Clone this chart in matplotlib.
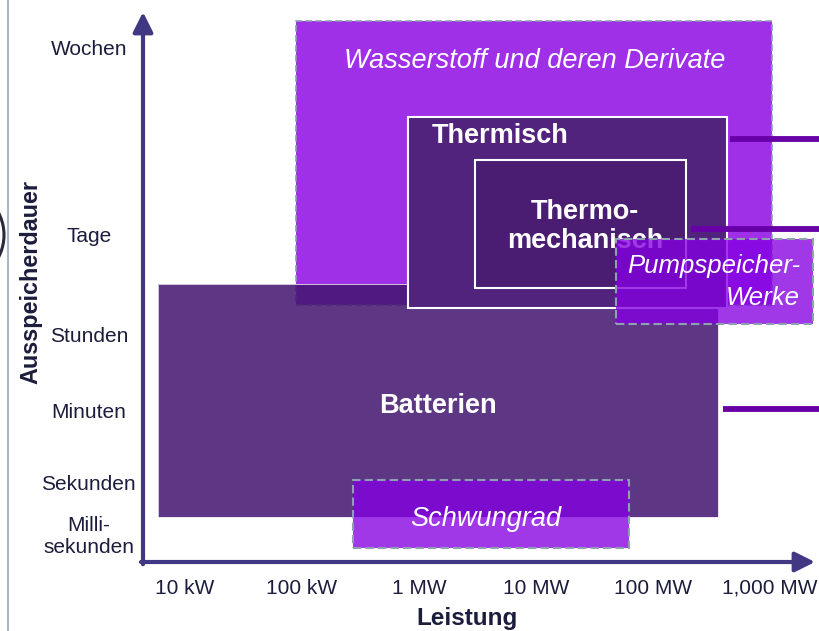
import matplotlib.pyplot as plt
from matplotlib.patches import Rectangle, Ellipse

plt.rcParams['font.family'] = ['Liberation Sans', 'DejaVu Sans']

# Speichertechnologien: Leistungsbereich (kW) und Ausspeicherdauer (ordinale Skala 0..10)
techs = ["Wasserstoff", "Batterien", "Thermisch", "Thermomechanisch", "Pumpspeicher", "Schwungrad"]
labels = ["Wasserstoff und deren Derivate", "Batterien", "Thermisch",
          "Thermo-\nmechanisch", "Pumpspeicher-\nWerke", "Schwungrad"]
power_min_kw = [89, 5.9, 810, 3000, 48000, 275]
power_max_kw = [1050000, 360000, 430000, 190000, 2350000, 63000]
dur_min = [4.67, 0.82, 4.62, 4.98, 4.33, 0.26]
dur_max = [9.84, 5.05, 8.09, 7.31, 5.87, 1.49]

# Achsenbeschriftungen
power_ticks_kw = [10, 100, 1000, 10000, 100000, 1000000]
power_labels = ["10 kW", "100 kW", "1 MW", "10 MW", "100 MW", "1,000 MW"]
dur_ticks = [0.53, 1.44, 2.76, 4.13, 5.95, 9.36]
dur_labels = ["Milli-\nsekunden", "Sekunden", "Minuten", "Stunden", "Tage", "Wochen"]

# Verbindungslinien rechts (Dauer, Start in kW)
leader_dur = [7.69, 6.05, 2.78]
leader_start_kw = [455000, 210000, 400000]
leader_end_kw = 2700000

AXIS = '#403882'
TEXT = '#1c1c3c'
DASH = '#8fa0b0'


def main():
    fig = plt.figure(figsize=(8.19, 6.31), dpi=100)
    ax = fig.add_axes([143 / 819, 69 / 631, 672 / 819, 550 / 631])
    ax.set_xscale('log')
    ax.set_xlim(10 ** 0.641, 10 ** 6.385)
    ax.set_ylim(0, 10)
    for s in ax.spines.values():
        s.set_visible(False)

    styles = {
        "Wasserstoff": dict(fc='#a030e8', alpha=1.0, ec=DASH, ls=(0, (4, 2)), lw=1.2),
        "Batterien": dict(fc='#42146f', alpha=0.85, ec='#e8e0f0', ls='-', lw=0.6),
        "Thermisch": dict(fc='#52237d', alpha=1.0, ec='white', ls='-', lw=1.5),
        "Thermomechanisch": dict(fc='#4a1c72', alpha=1.0, ec='white', ls='-', lw=1.5),
        "Pumpspeicher": dict(fc='#8500e2', alpha=0.78, ec=DASH, ls=(0, (4, 2)), lw=1.5),
        "Schwungrad": dict(fc='#8500e2', alpha=0.78, ec=DASH, ls=(0, (4, 2)), lw=1.5),
    }

    for i, name in enumerate(techs):
        st = styles[name]
        x0, x1 = power_min_kw[i], power_max_kw[i]
        y0, y1 = dur_min[i], dur_max[i]
        ax.add_patch(Rectangle((x0, y0), x1 - x0, y1 - y0, facecolor=st['fc'],
                               alpha=st['alpha'], edgecolor='none', zorder=2 + i))
        ax.add_patch(Rectangle((x0, y0), x1 - x0, y1 - y0, facecolor='none',
                               edgecolor=st['ec'], linestyle=st['ls'], linewidth=st['lw'],
                               zorder=2 + i, clip_on=False))

        xc = (x0 * x1) ** 0.5
        yc = (y0 + y1) / 2
        if name == "Wasserstoff":
            ax.text(xc, y1 - 0.74, labels[i], color='white', fontsize=19.5,
                    style='italic', ha='center', va='center', zorder=2 + i)
        elif name == "Thermisch":
            ax.text(x0 * 1.6, y1 - 0.34, labels[i], color='white', fontsize=19.5,
                    weight='bold', ha='left', va='center', zorder=2 + i)
        elif name == "Thermomechanisch":
            ax.text(xc * 1.1, yc - 0.04, labels[i], color='white', fontsize=19.5,
                    weight='bold', ha='center', va='center', linespacing=1.15, zorder=2 + i)
        elif name == "Pumpspeicher":
            ax.text(x1 / 1.3, yc - 0.01, labels[i], color='white', fontsize=18.5,
                    style='italic', ha='right', va='center', multialignment='right',
                    linespacing=1.45, zorder=20)
        elif name == "Batterien":
            ax.text(xc, yc - 0.1, labels[i], color='white', fontsize=19.5,
                    weight='bold', ha='center', va='center', zorder=20)
        else:
            ax.text(xc * 0.9, yc - 0.09, labels[i], color='white', fontsize=19.5,
                    style='italic', ha='center', va='center', zorder=20)

    for yd, xs in zip(leader_dur, leader_start_kw):
        ax.plot([xs, leader_end_kw], [yd, yd], color='#6800a8', lw=4.2, solid_capstyle='butt',
                clip_on=False, zorder=15)

    # Pfeilachsen
    arrow = dict(arrowstyle='-|>,head_length=0.6,head_width=0.3', lw=3, color=AXIS,
                 shrinkA=0, shrinkB=0, mutation_scale=20)
    ax.annotate('', xy=(0, 1), xytext=(0, -0.004), xycoords='axes fraction',
                arrowprops=arrow, annotation_clip=False, zorder=30)
    ax.annotate('', xy=(1, 0), xytext=(-0.003, 0), xycoords='axes fraction',
                arrowprops=arrow, annotation_clip=False, zorder=30)

    ax.set_xticks(power_ticks_kw, power_labels)
    ax.xaxis.set_minor_locator(plt.NullLocator())
    ax.set_yticks(dur_ticks, dur_labels)
    for lbl in ax.get_yticklabels():
        lbl.set_ha('center')
        lbl.set_multialignment('center')
    ax.tick_params(axis='x', length=0, pad=12, labelsize=15, labelcolor=TEXT)
    ax.tick_params(axis='y', length=0, pad=39, labelsize=15, labelcolor=TEXT)

    fig.text(467 / 819, 1 - 618 / 631, 'Leistung', fontsize=17.5, weight='bold',
             color=TEXT, ha='center', va='center')
    fig.text(31 / 819, 1 - 282 / 631, 'Ausspeicherdauer', fontsize=16.8, weight='bold',
             color=TEXT, ha='center', va='center', rotation=90)

    # Rand links
    fig.add_artist(plt.Line2D([8 / 819, 8 / 819], [0, 1], color='#a8b8c8', lw=1.5))
    fig.add_artist(Ellipse((-44 / 819, 1 - 235 / 631), 2 * 48 / 819, 2 * 48 / 631,
                           fill=False, edgecolor='#2a2a3a', lw=2.2))

    fig.savefig('out.png', dpi=100)


if __name__ == "__main__":
    main()
